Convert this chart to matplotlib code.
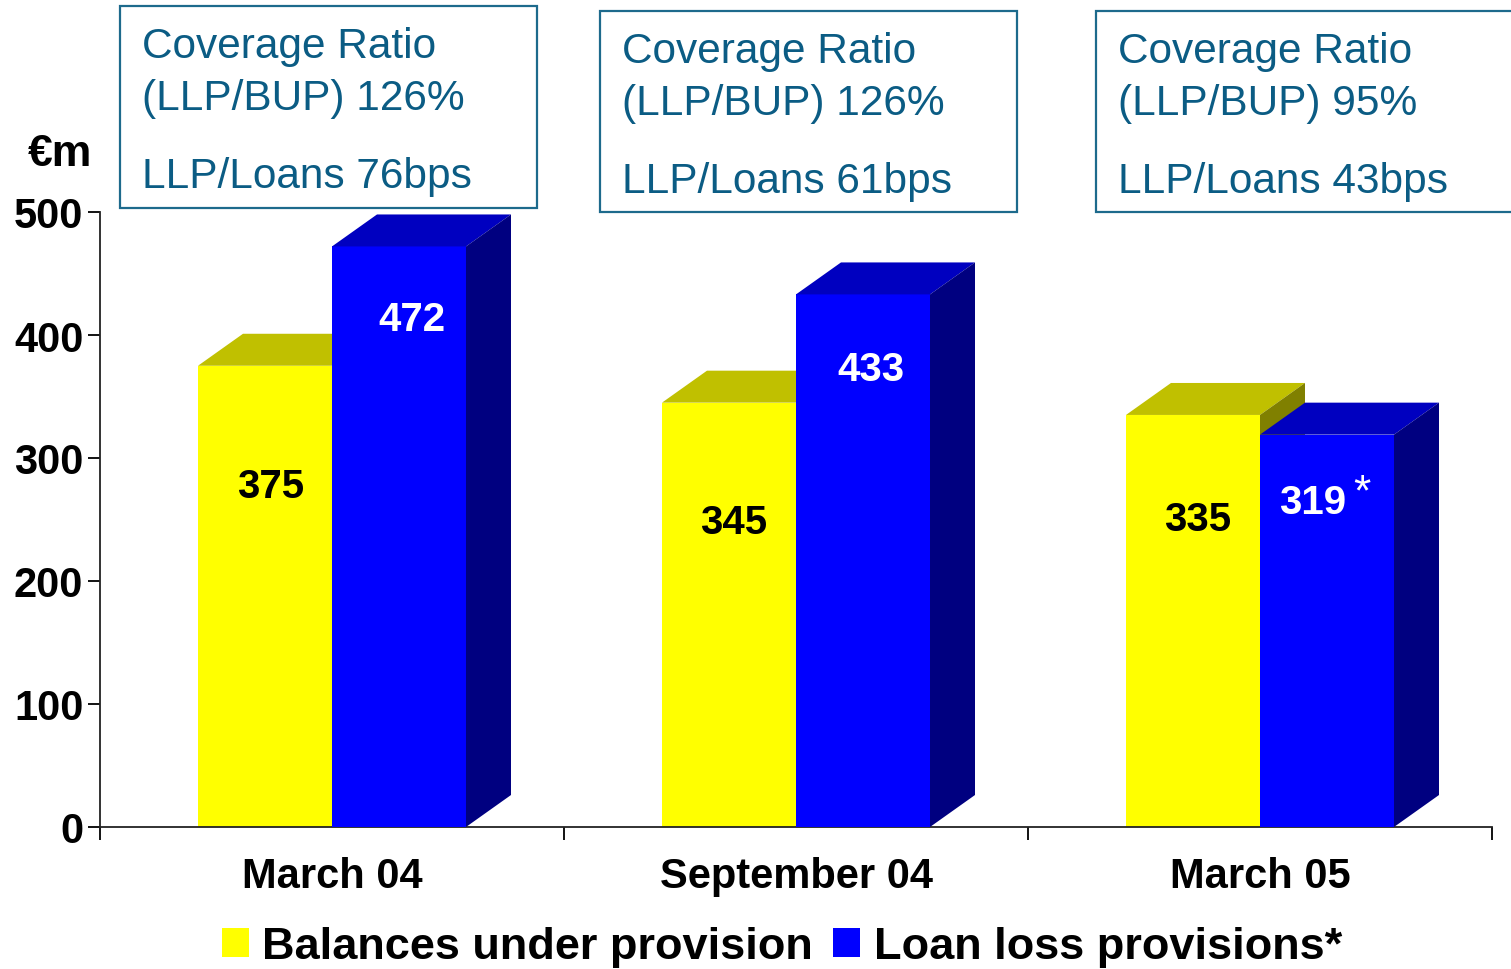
import matplotlib
matplotlib.use('Agg')
import matplotlib.pyplot as plt
from matplotlib.patches import Polygon, Rectangle, Patch
import numpy as np

plt.rcParams['font.family'] = ['Liberation Sans', 'DejaVu Sans']

categories = ['March 04', 'September 04', 'March 05']
bup = [375, 345, 335]           # Balances under provision
llp = [472, 433, 319]           # Loan loss provisions
coverage = ['126%', '126%', '95%']
llp_loans = ['76bps', '61bps', '43bps']

# where the value labels sit (x shift in category units, y in data units)
bup_lab = [(0.013, 277), (0.010, 248), (0.009, 250)]
llp_lab = [(0.027, 413), (0.017, 372), (-0.030, 264)]

W, H = 1511, 970
fig = plt.figure(figsize=(W / 100, H / 100), dpi=100)
ax = fig.add_axes([100 / W, 1 - 828 / H, 1392 / W, 615 / H])

bw = 134 / 464
dx = 45 / 464
dy = 26.0

faces = {
    'bup': ('#ffff00', '#c0c000', '#808000'),
    'llp': ('#0000ff', '#0000c0', '#000080'),
}


def bar3d(x0, h, cols, z):
    front, top, side = cols
    ax.bar(x0, h, bw, align='edge', color=front, zorder=z, clip_on=False)
    ax.add_patch(Polygon([(x0, h), (x0 + dx, h + dy), (x0 + bw + dx, h + dy), (x0 + bw, h)],
                         closed=True, facecolor=top, edgecolor='none', zorder=z, clip_on=False))
    ax.add_patch(Polygon([(x0 + bw, 0), (x0 + bw + dx, dy), (x0 + bw + dx, h + dy), (x0 + bw, h)],
                         closed=True, facecolor=side, edgecolor='none', zorder=z, clip_on=False))


centers = np.arange(len(categories)) + 0.5
for i, c in enumerate(centers):
    bar3d(c - bw, bup[i], faces['bup'], 2)
    bar3d(c, llp[i], faces['llp'], 3)
    ax.text(c - bw / 2 + bup_lab[i][0], bup_lab[i][1], str(bup[i]), ha='center', va='center',
            fontsize=29, fontweight='bold', color='black', zorder=5)
    ax.text(c + bw / 2 + llp_lab[i][0], llp_lab[i][1], str(llp[i]), ha='center', va='center',
            fontsize=29, fontweight='bold', color='white', zorder=5)
# footnote star on last blue bar
ax.text(2.72, 272, '*', ha='center', va='center', fontsize=32, color='white', zorder=5)

ax.set_xlim(0, 3)
ax.set_ylim(0, 500)
ax.set_yticks(range(0, 501, 100))
ax.tick_params(axis='y', labelsize=30, length=9, width=1.3, pad=3)
for lab in ax.get_yticklabels():
    lab.set_fontweight('bold')
ax.set_xticks([0, 1, 2, 3])
ax.set_xticklabels([])
ax.tick_params(axis='x', length=9, width=1.3)
ax.set_xticks(centers, minor=True)
ax.set_xticklabels(categories, minor=True, fontsize=30, fontweight='bold')
ax.tick_params(axis='x', which='minor', length=0, pad=21)
for s in ['top', 'right']:
    ax.spines[s].set_visible(False)
for s in ['left', 'bottom']:
    ax.spines[s].set_linewidth(1.3)
    ax.spines[s].set_color('#222222')

fig.text(28 / W, 1 - 155 / H, '€m', fontsize=32, fontweight='bold', ha='left', va='center')

# annotation boxes
teal = '#0b5c84'
boxes = [(120, 7, 417, 202), (600, 12, 417, 201), (1096, 12, 430, 201)]
for i, (bx, by, bwid, bh) in enumerate(boxes):
    fig.patches.append(Rectangle((bx / W, 1 - (by + bh) / H), bwid / W, bh / H,
                                 transform=fig.transFigure, facecolor='white',
                                 edgecolor='#1d6a8c', lw=1.6, clip_on=False))
    tx = (bx + 22) / W
    off = by - 7
    fig.text(tx, 1 - (47 + off) / H, 'Coverage Ratio', fontsize=30.5, color=teal, va='center')
    fig.text(tx, 1 - (99 + off) / H, '(LLP/BUP) ' + coverage[i], fontsize=30.5, color=teal, va='center')
    fig.text(tx, 1 - (177 + off) / H, 'LLP/Loans ' + llp_loans[i], fontsize=30.5, color=teal, va='center')

handles = [Patch(facecolor=faces['bup'][0]), Patch(facecolor=faces['llp'][0])]
fig.legend(handles, ['Balances under provision', 'Loan loss provisions*'],
           loc='center', bbox_to_anchor=(782 / W, 1 - 948 / H), ncol=2, frameon=False,
           prop={'size': 32.5, 'weight': 'bold'}, handlelength=0.6, handleheight=0.6,
           handletextpad=0.3, columnspacing=0.45, borderaxespad=0)

fig.savefig('out.png', dpi=100)
